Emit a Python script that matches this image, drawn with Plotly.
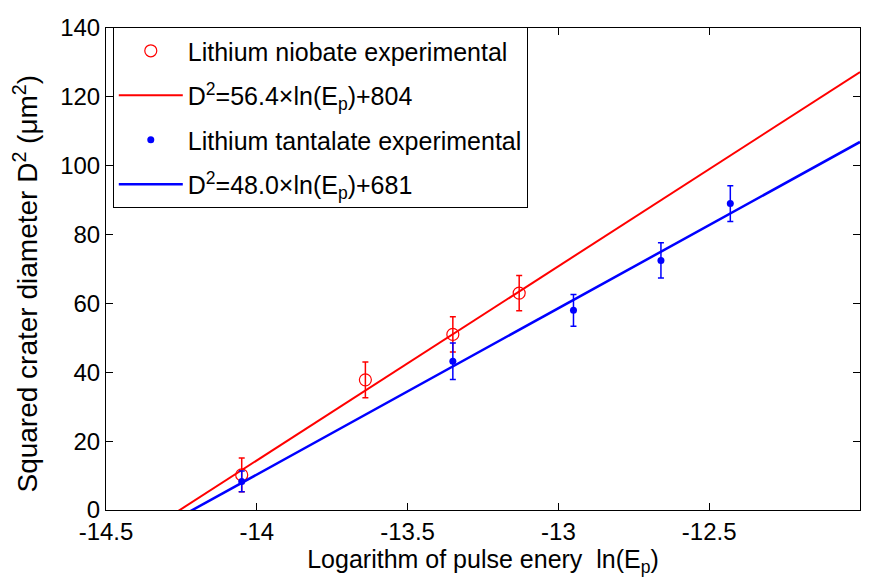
import numpy as np
import plotly.graph_objects as go

# Data
ln_x = [-14.05, -13.64, -13.35, -13.13]
ln_y = [10.2, 37.8, 51.0, 63.0]
ln_err = [4.9, 5.2, 5.1, 5.1]

lt_x = [-14.05, -13.35, -12.95, -12.66, -12.43]
lt_y = [8.3, 43.2, 58.0, 72.5, 89.0]
lt_err = [3.0, 5.3, 4.6, 5.1, 5.2]

# fit lines (slope, intercept)
ln_fit = (56.4, 804.0)
lt_fit = (48.3, 686.5)

x_range = [-14.5, -12]
y_range = [0, 140]
x_ticks = [-14.5, -14, -13.5, -13, -12.5, -12]
x_ticklabels = ["-14.5", "-14", "-13.5", "-13", "-12.5", "-12"]
y_ticks = [0, 20, 40, 60, 80, 100, 120, 140]

RED = "#ff0000"
BLUE = "#0000ff"
FONT = "Liberation Sans, Arial, sans-serif"

xl = np.linspace(-14.35, x_range[1], 200)

fig = go.Figure()
fig.add_trace(go.Scatter(
    x=ln_x, y=ln_y, mode="markers",
    name="Lithium niobate experimental",
    marker=dict(symbol="circle-open", size=12, color=RED, line=dict(width=1.2, color=RED)),
    error_y=dict(type="data", array=ln_err, color=RED, thickness=1.5, width=3),
    legendgroup="a", cliponaxis=False,
))
fig.add_trace(go.Scatter(
    x=xl, y=ln_fit[0] * xl + ln_fit[1], mode="lines",
    name="D<sup>2</sup>=56.4×ln(E<sub>p</sub>)+804",
    line=dict(color=RED, width=2), legendgroup="b",
))
fig.add_trace(go.Scatter(
    x=lt_x, y=lt_y, mode="markers",
    name="Lithium tantalate experimental",
    marker=dict(symbol="circle", size=7, color=BLUE),
    error_y=dict(type="data", array=lt_err, color=BLUE, thickness=1.5, width=3),
    legendgroup="c", cliponaxis=False,
))
fig.add_trace(go.Scatter(
    x=xl, y=lt_fit[0] * xl + lt_fit[1], mode="lines",
    name="D<sup>2</sup>=48.0×ln(E<sub>p</sub>)+681",
    line=dict(color=BLUE, width=2.5), legendgroup="d",
))

axis_common = dict(
    showgrid=False, zeroline=False, showline=True, linecolor="black", linewidth=1,
    mirror="ticks", ticks="inside", ticklen=7, tickcolor="black",
    tickfont=dict(family=FONT, size=24, color="black"),
)
fig.update_xaxes(range=x_range, tickvals=x_ticks, ticktext=x_ticklabels,
                 title=dict(text="Logarithm of pulse enery  ln(E<sub>p</sub>)",
                            font=dict(family=FONT, size=25, color="black"), standoff=6),
                 **axis_common)
fig.update_yaxes(range=y_range, tickvals=y_ticks, **axis_common)

fig.add_annotation(
    text="Squared crater diameter D<sup>2</sup> (μm<sup>2</sup>)",
    xref="paper", yref="paper", x=-0.106, y=0.47, xanchor="center", yanchor="middle",
    textangle=-90, showarrow=False,
    font=dict(family=FONT, size=28, color="black"),
)

fig.update_layout(
    width=875, height=585,
    margin=dict(l=106, r=15, t=28, b=75),
    paper_bgcolor="white", plot_bgcolor="white",
    showlegend=True,
    legend=dict(
        x=0.009, y=1.002, xanchor="left", yanchor="top",
        bgcolor="white", bordercolor="black", borderwidth=1,
        font=dict(family=FONT, size=25, color="black"),
        itemwidth=64, tracegroupgap=9, traceorder="grouped",
    ),
)

fig.write_html("out.html")
